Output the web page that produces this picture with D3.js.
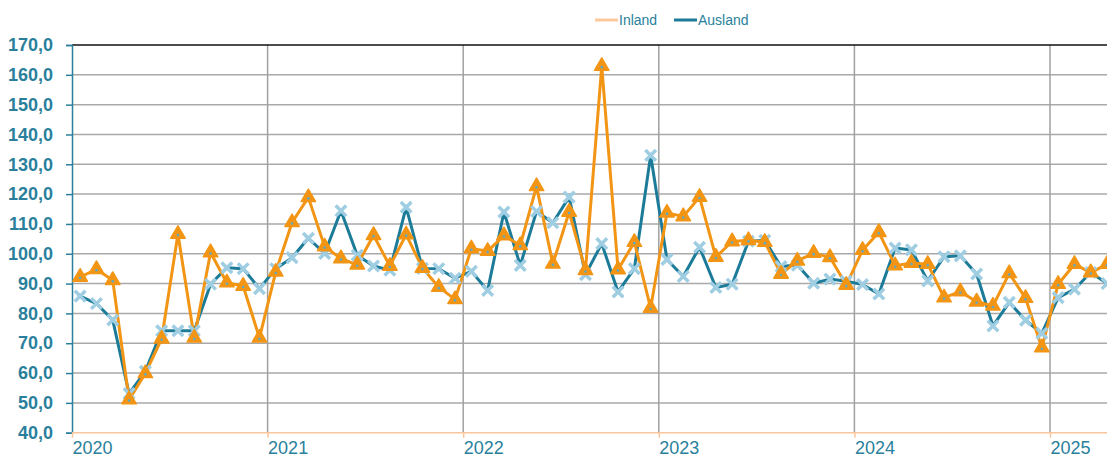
<!DOCTYPE html>
<html>
<head>
<meta charset="utf-8">
<script src="https://cdn.jsdelivr.net/npm/d3@7"></script>
<style>
  body { margin: 0; background: #fff; }
  svg { display: block; font-family: "Liberation Sans", Arial, sans-serif; }
</style>
</head>
<body>
<div id="chart"></div>
<script>
// monthly values, Jan 2020 .. Apr 2025
const yearLabels = ["2020", "2021", "2022", "2023", "2024", "2025"];
const inland = [
  92.2, 94.8, 91.1, 51.1, 59.9, 71.5, 106.6, 71.8, 100.4, 90.3, 89.2, 71.8,
  93.9, 110.5, 118.9, 102.4, 98.4, 96.3, 106.2, 95.9, 106.4, 95.2, 88.8, 84.7,
  101.7, 100.9, 106.1, 102.8, 122.6, 96.6, 114.0, 94.4, 162.9, 94.7, 103.9, 81.8,
  113.7, 112.5, 119.0, 98.9, 104.1, 104.5, 103.9, 93.2, 97.6, 100.2, 98.8, 89.5,
  101.2, 107.2, 96.0, 96.9, 96.5, 85.3, 87.3, 83.9, 82.5, 93.4, 85.1, 68.5,
  89.8, 96.5, 93.7, 96.5
];
const ausland = [
  85.8, 83.3, 77.8, 53.1, 60.6, 74.2, 74.2, 74.2, 89.8, 95.3, 95.0, 88.3,
  95.0, 98.7, 105.2, 100.1, 114.4, 99.5, 95.9, 94.5, 115.6, 95.1, 95.0, 91.8,
  94.1, 87.7, 114.0, 96.1, 114.2, 110.4, 119.0, 93.0, 103.4, 87.2, 95.0, 133.0,
  98.1, 92.4, 102.2, 88.7, 89.8, 104.2, 104.5, 95.7, 96.2, 90.1, 91.5, 90.8,
  89.7, 86.5, 101.9, 101.3, 90.9, 99.0, 99.3, 93.2, 75.8, 83.7, 77.7, 73.3,
  85.3, 88.1, 93.7, 90.0
];
const yTicks = d3.range(40, 171, 10);

const width = 1107, height = 459;
const margin = {top: 45, left: 72, bottom: 26};
const teal = "#1b7b98", orange = "#f39514", axisTeal = "#2a7f9c";

const svg = d3.select("#chart").append("svg")
    .attr("width", width)
    .attr("height", height);

const x = d3.scaleLinear().domain([0, 60]).range([margin.left, 1050]);
const y = d3.scaleLinear().domain([40, 170]).range([height - margin.bottom - 0.3, margin.top]);
const right = width + 5;

// horizontal grid
svg.append("g")
  .selectAll("line")
  .data(yTicks.filter(d => d > 40 && d < 170))
  .join("line")
    .attr("x1", margin.left).attr("x2", right)
    .attr("y1", d => y(d)).attr("y2", d => y(d))
    .attr("stroke", "#a9a9a9").attr("stroke-width", 1.5);

// vertical year grid
svg.append("g")
  .selectAll("line")
  .data(yearLabels.slice(1).map((d, i) => (i + 1) * 12))
  .join("line")
    .attr("x1", d => x(d)).attr("x2", d => x(d))
    .attr("y1", y(170)).attr("y2", y(40))
    .attr("stroke", "#a0a0a0").attr("stroke-width", 1.5);

// top border
svg.append("line")
    .attr("x1", margin.left).attr("x2", right)
    .attr("y1", y(170)).attr("y2", y(170))
    .attr("stroke", "#111").attr("stroke-width", 1.5);

// y axis
const yAxis = svg.append("g")
    .attr("transform", `translate(${margin.left},0)`)
    .call(d3.axisLeft(y).tickValues(yTicks).tickSize(6).tickPadding(13)
      .tickFormat(d => d3.format(".1f")(d).replace(".", ",")));
yAxis.select(".domain").attr("stroke", axisTeal).attr("stroke-width", 1.5);
yAxis.selectAll(".tick line").attr("stroke", axisTeal).attr("stroke-width", 1.5);
yAxis.selectAll(".tick text")
    .attr("fill", axisTeal)
    .style("font-size", "18px")
    .style("font-weight", "bold");

// x axis
const xAxis = svg.append("g")
    .attr("transform", `translate(0,${y(40)})`)
    .call(d3.axisBottom(x).tickValues(yearLabels.map((d, i) => i * 12))
      .tickSize(5).tickFormat((d, i) => yearLabels[i]));
xAxis.select(".domain").attr("d", `M${margin.left},0H${right}`)
    .attr("stroke", "#fbc59c").attr("stroke-width", 1.5);
xAxis.selectAll(".tick line").attr("stroke", "#fbc59c").attr("stroke-width", 1.5);
xAxis.selectAll(".tick text")
    .attr("fill", axisTeal)
    .attr("text-anchor", "start")
    .attr("x", 0)
    .attr("y", 7)
    .attr("dy", "0.78em")
    .style("font-size", "18px");

const line = d3.line().x((d, i) => x(i + 0.5)).y(d => y(d));

// Ausland series
svg.append("path")
    .datum(ausland)
    .attr("d", line)
    .attr("fill", "none")
    .attr("stroke", teal)
    .attr("stroke-width", 3)
    .attr("stroke-linejoin", "round");

// Inland series
svg.append("path")
    .datum(inland)
    .attr("d", line)
    .attr("fill", "none")
    .attr("stroke", orange)
    .attr("stroke-width", 3)
    .attr("stroke-linejoin", "round");

// Ausland markers (x)
const cross = d3.symbol().type(d3.symbolTimes).size(75);
svg.append("g")
  .selectAll("path")
  .data(ausland)
  .join("path")
    .attr("transform", (d, i) => `translate(${x(i + 0.5)},${y(d)})`)
    .attr("d", cross)
    .attr("fill", "#9fcde2")
    .attr("stroke", "#9fcde2")
    .attr("stroke-width", 3.5);

// Inland markers (triangles)
const tri = d3.symbol().type(d3.symbolTriangle).size(90);
const triG = svg.append("g")
  .selectAll("g")
  .data(inland)
  .join("g")
    .attr("transform", (d, i) => `translate(${x(i + 0.5)},${y(d)})`);
triG.append("path")
    .attr("d", tri)
    .attr("fill", orange)
    .attr("stroke", orange)
    .attr("stroke-width", 1.5)
    .attr("stroke-linejoin", "round");
triG.append("circle")
    .attr("r", 1.3)
    .attr("cy", 1)
    .attr("fill", "#5ea9c4");

// legend
const legendItems = [
  {name: "Inland", color: "#fcc99c", x: 595},
  {name: "Ausland", color: teal, x: 674}
];
const lg = svg.append("g")
  .selectAll("g")
  .data(legendItems)
  .join("g")
    .attr("transform", d => `translate(${d.x},20)`);
lg.append("line")
    .attr("x1", 0).attr("x2", 23)
    .attr("stroke", d => d.color).attr("stroke-width", 3);
lg.append("text")
    .attr("x", 24).attr("dy", "0.35em")
    .attr("fill", axisTeal)
    .style("font-size", "14px")
    .text(d => d.name);
</script>
</body>
</html>
